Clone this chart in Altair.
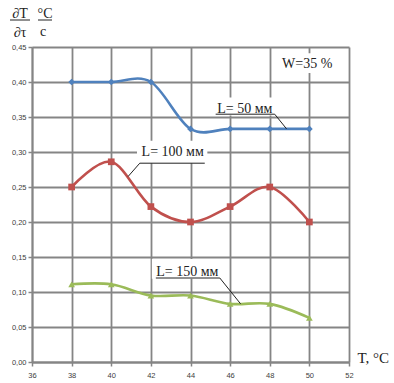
import altair as alt
import pandas as pd

# Temperature points, °C
temps = [38, 40, 42, 44, 46, 48, 50]

# Heating rate dT/dτ, °C/c, for three sample lengths
rate_50 = [0.400, 0.400, 0.400, 0.333, 0.333, 0.333, 0.333]
rate_100 = [0.250, 0.286, 0.222, 0.200, 0.222, 0.250, 0.200]
rate_150 = [0.111, 0.111, 0.095, 0.095, 0.083, 0.083, 0.063]

series_names = ["L= 50 мм", "L= 100 мм", "L= 150 мм"]
series_colors = ["#4F81BD", "#C0504D", "#9BBB59"]
series_shapes = ["diamond", "square", "triangle-up"]

x_ticks = [36, 38, 40, 42, 44, 46, 48, 50, 52]
y_ticks = [0.00, 0.05, 0.10, 0.15, 0.20, 0.25, 0.30, 0.35, 0.40, 0.45]

# Callout labels: text anchor, white backing box, underline and leader line
label_text = ["L= 50 мм", "L= 100 мм", "L= 150 мм", "W=35 %"]
label_x = [46.74, 43.10, 43.84, 49.89]
label_y = [0.362, 0.300, 0.129, 0.426]
box_x1 = [45.10, 41.30, 42.05, 48.50]
box_x2 = [48.45, 44.85, 45.65, 51.25]
box_y1 = [0.352, 0.284, 0.119, 0.413]
box_y2 = [0.378, 0.316, 0.147, 0.441]

under_x1 = [45.27, 41.44, 42.25]
under_x2 = [48.25, 44.72, 45.48]
under_y = [0.354, 0.284, 0.120]
lead_x1 = [48.25, 41.44, 45.48]
lead_y1 = [0.354, 0.284, 0.120]
lead_x2 = [48.85, 40.85, 46.53]
lead_y2 = [0.333, 0.265, 0.083]

rows = []
for name, vals in zip(series_names, [rate_50, rate_100, rate_150]):
    for t, v in zip(temps, vals):
        rows.append({"T": t, "rate": v, "series": name})
df = pd.DataFrame(rows)

boxes = pd.DataFrame({"x1": box_x1, "x2": box_x2, "y1": box_y1, "y2": box_y2})
labels = pd.DataFrame({"text": label_text, "x": label_x, "y": label_y})
unders = pd.DataFrame({"x1": under_x1, "x2": under_x2, "y": under_y})
leads = pd.DataFrame({"x1": lead_x1, "y1": lead_y1, "x2": lead_x2, "y2": lead_y2})

GRID = "#858585"
SERIF = "Liberation Serif"
SANS = "Liberation Sans"

x_scale = alt.Scale(domain=[36, 52], nice=False, zero=False)
y_scale = alt.Scale(domain=[0, 0.45], nice=False)

common_axis = dict(
    grid=True, gridColor=GRID, gridWidth=1.8,
    domainColor=GRID, domainWidth=1.8, tickColor=GRID, tickSize=4, tickWidth=1.5,
    labelFont=SANS, labelFontSize=7.5, labelColor="#404040",
    labelOverlap=False, labelFlush=False,
)

x_axis = alt.Axis(
    values=x_ticks, labelPadding=5,
    title="T, °C", titleFont=SERIF, titleFontSize=15, titleFontWeight="normal",
    titleColor="#222222", titleX=325, titleY=-5, titleAlign="left",
    titleBaseline="middle", titleAnchor="start",
    **common_axis,
)
y_axis = alt.Axis(
    values=y_ticks, labelPadding=2,
    labelExpr="replace(format(datum.value, '.2f'), '.', ',')", title=None,
    **common_axis,
)


def X(field):
    return alt.X(field, type="quantitative", scale=x_scale, axis=x_axis)


def Y(field):
    return alt.Y(field, type="quantitative", scale=y_scale, axis=y_axis)


color = alt.Color("series:N", scale=alt.Scale(domain=series_names, range=series_colors), legend=None)
shape = alt.Shape("series:N", scale=alt.Scale(domain=series_names, range=series_shapes), legend=None)

base = alt.Chart(df)
lines = base.mark_line(interpolate="cardinal", strokeWidth=2.6).encode(
    x=X("T"), y=Y("rate"), color=color, detail="series:N",
)
points = base.mark_point(filled=True, size=45, opacity=1).encode(
    x=X("T"), y=Y("rate"), color=color, shape=shape,
)

box_layer = alt.Chart(boxes).mark_rect(color="white").encode(
    x=X("x1"), x2="x2", y=Y("y1"), y2="y2"
)
label_layer = alt.Chart(labels).mark_text(
    font=SERIF, fontSize=14, fontWeight="normal", color="#222222",
    baseline="middle", align="center"
).encode(x=X("x"), y=Y("y"), text="text:N")
under_layer = alt.Chart(unders).mark_rule(color="#222222", strokeWidth=1).encode(
    x=X("x1"), x2="x2", y=Y("y")
)
lead_layer = alt.Chart(leads).mark_rule(color="#222222", strokeWidth=1).encode(
    x=X("x1"), y=Y("y1"), x2="x2", y2="y2"
)


def title_piece(s, x, y):
    return alt.Chart(pd.DataFrame({"s": [s]})).mark_text(
        font=SERIF, fontSize=14, fontWeight="normal", color="#222222",
        baseline="middle", align="center"
    ).encode(x=alt.value(x), y=alt.value(y), text="s:N")


def title_bar(x1, x2, y):
    return alt.Chart(pd.DataFrame({"s": [0]})).mark_rule(color="#222222", strokeWidth=1).encode(
        x=alt.value(x1), x2=alt.value(x2), y=alt.value(y)
    )


y_title = (
    title_piece("∂T", -12, -33)
    + title_piece("°C", 13, -33)
    + title_piece("∂τ", -12, -14)
    + title_piece("c", 11, -15)
    + title_bar(-22, -2, -27)
    + title_bar(6, 20, -27)
)

chart = (
    alt.layer(lines, points, box_layer, under_layer, lead_layer, label_layer, y_title)
    .properties(
        width=317, height=315,
        autosize=alt.AutoSizeParams(type="none"),
        padding={"left": 32, "top": 47, "right": 45, "bottom": 21},
        background="white",
    )
    .configure_view(strokeWidth=0)
)

chart.save("out.html", embed_options={"renderer": "svg", "actions": False})
